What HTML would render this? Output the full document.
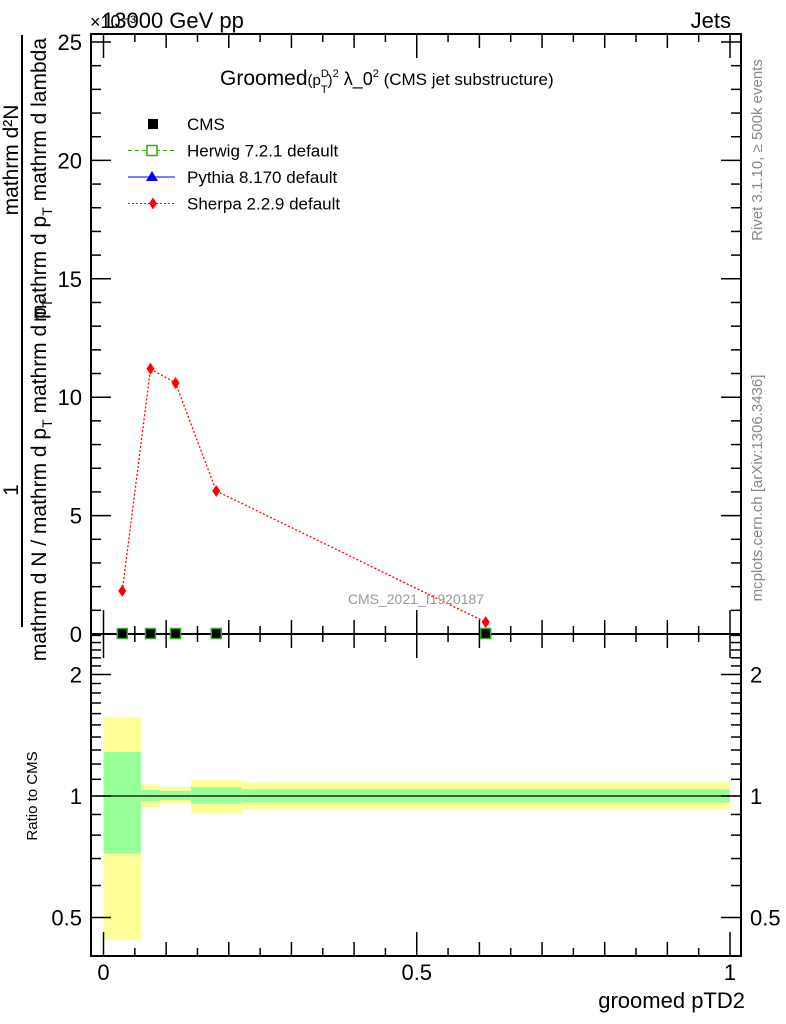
<!DOCTYPE html>
<html><head><meta charset="utf-8"><style>
body{margin:0;background:#fff}
svg{display:block;font-family:"Liberation Sans",sans-serif}
</style></head><body>
<svg id="c" width="786" height="1024" viewBox="0 0 786 1024" xmlns="http://www.w3.org/2000/svg">
<g id="g"></g>
<g font-family="Liberation Sans, sans-serif">
<text x="102" y="28" font-size="22">13000 GeV pp</text>
<text x="90" y="28" font-size="18" fill="#000">×10⁻³</text>
<text x="731" y="28" font-size="22" text-anchor="end">Jets</text>
<text x="220" y="85" font-size="21">Groomed<tspan font-size="15">(p</tspan><tspan font-size="11" dy="-8">D</tspan><tspan font-size="11" dx="-8" dy="16">T</tspan><tspan font-size="15" dy="-8">)</tspan><tspan font-size="11" dy="-8">2</tspan><tspan font-size="18" dy="8"> λ_0</tspan><tspan font-size="11" dy="-8">2</tspan><tspan font-size="17" dy="8"> (CMS jet substructure)</tspan></text>
<text x="416" y="604" font-size="14" fill="#999" text-anchor="middle">CMS_2021_I1920187</text>
<text x="745" y="1008" font-size="22" text-anchor="end">groomed pTD2</text>
<text transform="translate(37,796) rotate(-90)" font-size="15" text-anchor="middle">Ratio to CMS</text>
<text transform="translate(762,150) rotate(-90)" font-size="15" fill="#888" text-anchor="middle">Rivet 3.1.10, ≥ 500k events</text>
<text transform="translate(762,488) rotate(-90)" font-size="15" fill="#888" text-anchor="middle">mcplots.cern.ch [arXiv:1306.3436]</text>
<line x1="22" y1="35" x2="22" y2="627" stroke="#000" stroke-width="2"/>
<text transform="translate(18,160) rotate(-90)" font-size="21" text-anchor="middle">mathrm d²N</text>
<text transform="translate(46,180) rotate(-90)" font-size="21" text-anchor="middle">mathrm d p<tspan font-size="14" dy="6">T</tspan><tspan dy="-6"> mathrm d lambda</tspan></text>
<text transform="translate(18,490) rotate(-90)" font-size="21" text-anchor="middle">1</text>
<text transform="translate(46,480) rotate(-90)" font-size="21" text-anchor="middle">mathrm d N / mathrm d p<tspan font-size="14" dy="6">T</tspan><tspan dy="-6"> mathrm d p</tspan><tspan font-size="14" dy="6">T</tspan></text>
</g>
</svg>
<script>
const binEdges=[0,0.06,0.09,0.14,0.22,1.0];
const xCenters=[0.03,0.075,0.115,0.18,0.61];
const cmsValues=[0.02,0.02,0.02,0.02,0.02];
const sherpaValues=[1.82,11.2,10.6,6.04,0.5];
const yellowHi=[1.57,1.069,1.053,1.095,1.081];
const yellowLo=[0.44,0.939,0.955,0.907,0.927];
const greenHi=[1.285,1.035,1.03,1.052,1.04];
const greenLo=[0.72,0.97,0.977,0.957,0.963];
const mainYTicks=[0,5,10,15,20,25];
const ratioYTicks=[0.5,1,2];
const xTickLabels=[0,0.5,1];

const NS="http://www.w3.org/2000/svg";
const g=document.getElementById('g');
const L=91,R=741,T=34,MB=634,RB=956;
const X=v=>103.5+v*626.5;
const Y=v=>634-v*23.68;
const RY=v=>796-Math.log2(v)*121.5;
function el(t,a,p){const e=document.createElementNS(NS,t);for(const k in a)e.setAttribute(k,a[k]);(p||g).appendChild(e);return e;}
function txt(s,a){const e=el('text',a);e.textContent=s;return e;}

for(let i=0;i<yellowHi.length;i++){
 const b=el('rect',{x:X(binEdges[i]),y:RY(yellowHi[i]),width:X(binEdges[i+1])-X(binEdges[i]),height:RY(yellowLo[i])-RY(yellowHi[i]),fill:'#ffff99'});
 
 
 const gr=el('rect',{x:X(binEdges[i]),y:RY(greenHi[i]),width:X(binEdges[i+1])-X(binEdges[i]),height:RY(greenLo[i])-RY(greenHi[i]),fill:'#99ff99'});
 
 
}
el('line',{x1:L,x2:R,y1:RY(1),y2:RY(1),stroke:'#000','stroke-width':1.2});

const f1=el('rect',{x:L,y:T,width:R-L,height:MB-T,fill:'none',stroke:'#000','stroke-width':2});


const f2=el('rect',{x:L,y:MB,width:R-L,height:RB-MB,fill:'none',stroke:'#000','stroke-width':2});



for(let k=0;k<=20;k++){const v=k*0.05,x=X(v);const len=k%10==0?24:(k%2==0?14:8);
 [[MB,-1],[T,1],[RB,-1],[MB,1]].forEach(([y0,d])=>el('line',{x1:x,x2:x,y1:y0,y2:y0+d*len,stroke:'#000','stroke-width':1.5}));}
xTickLabels.forEach(v=>{const t=txt(String(v),{x:X(v),y:980,'font-size':22,'text-anchor':'middle'});
 
 });

for(let v=0;v<=25;v++){const y=Y(v),len=v%5==0?20:10;
 el('line',{x1:L,x2:L+len,y1:y,y2:y,stroke:'#000','stroke-width':1.5});
 el('line',{x1:R,x2:R-len,y1:y,y2:y,stroke:'#000','stroke-width':1.5});}
mainYTicks.forEach(v=>{const t=txt(String(v),{x:82,y:Y(v)+8,'font-size':22,'text-anchor':'end'});
 
 });
[0.5,0.6,0.7,0.8,0.9,1,1.1,1.2,1.3,1.4,1.5,1.6,1.7,1.8,1.9,2,2.1,2.2,2.3,2.4,2.5].forEach(v=>{const y=RY(v);if(y<MB)return;const len=(v==0.5||v==1||v==2)?20:10;
 el('line',{x1:L,x2:L+len,y1:y,y2:y,stroke:'#000','stroke-width':1.5});
 el('line',{x1:R,x2:R-len,y1:y,y2:y,stroke:'#000','stroke-width':1.5});});
ratioYTicks.forEach(v=>{const s=String(v);
 const t=txt(s,{x:82,y:RY(v)+8,'font-size':22,'text-anchor':'end'});
 
 
 const t2=txt(s,{x:750,y:RY(v)+8,'font-size':22});
 
 });

const pts=xCenters.map((x,i)=>X(x)+','+Y(sherpaValues[i])).join(' ');
const pl=el('polyline',{points:pts,fill:'none',stroke:'#f00','stroke-width':1.3,'stroke-dasharray':'2,2'});


xCenters.forEach((x,i)=>{const cx=X(x),cy=Y(sherpaValues[i]);
 const d=el('polygon',{points:`${cx},${cy-6} ${cx+4},${cy} ${cx},${cy+6} ${cx-4},${cy}`,fill:'#f00'});
 
 
 const s=el('rect',{x:cx-5,y:Y(cmsValues[i])-5,width:10,height:10,fill:'#000',stroke:'#3a3',"stroke-width":1.5});
 
 });

const leg=[['CMS','sq'],['Herwig 7.2.1 default','hw'],['Pythia 8.170 default','py'],['Sherpa 2.2.9 default','sh']];
leg.forEach(([name,k],i)=>{const y=124+i*26.5;
 if(k=='sq')el('rect',{x:148,y:y-5,width:10,height:10,fill:'#000'});
 if(k=='hw'){el('line',{x1:128,x2:175,y1:y,y2:y,stroke:'#3a0','stroke-dasharray':'4,3'});el('rect',{x:147,y:y-5,width:10,height:10,fill:'#fff',stroke:'#3a0','stroke-width':1.5});}
 if(k=='py'){el('line',{x1:128,x2:175,y1:y,y2:y,stroke:'#00f'});el('polygon',{points:`152,${y-6} 158,${y+4} 146,${y+4}`,fill:'#00f'});}
 if(k=='sh'){el('line',{x1:128,x2:175,y1:y,y2:y,stroke:'#f00','stroke-dasharray':'2,2'});el('polygon',{points:`153,${y-6} 157,${y} 153,${y+6} 149,${y}`,fill:'#f00'});}
 const t=txt(name,{x:187,y:y+6,'font-size':17});
 
 });
</script>
</body></html>
